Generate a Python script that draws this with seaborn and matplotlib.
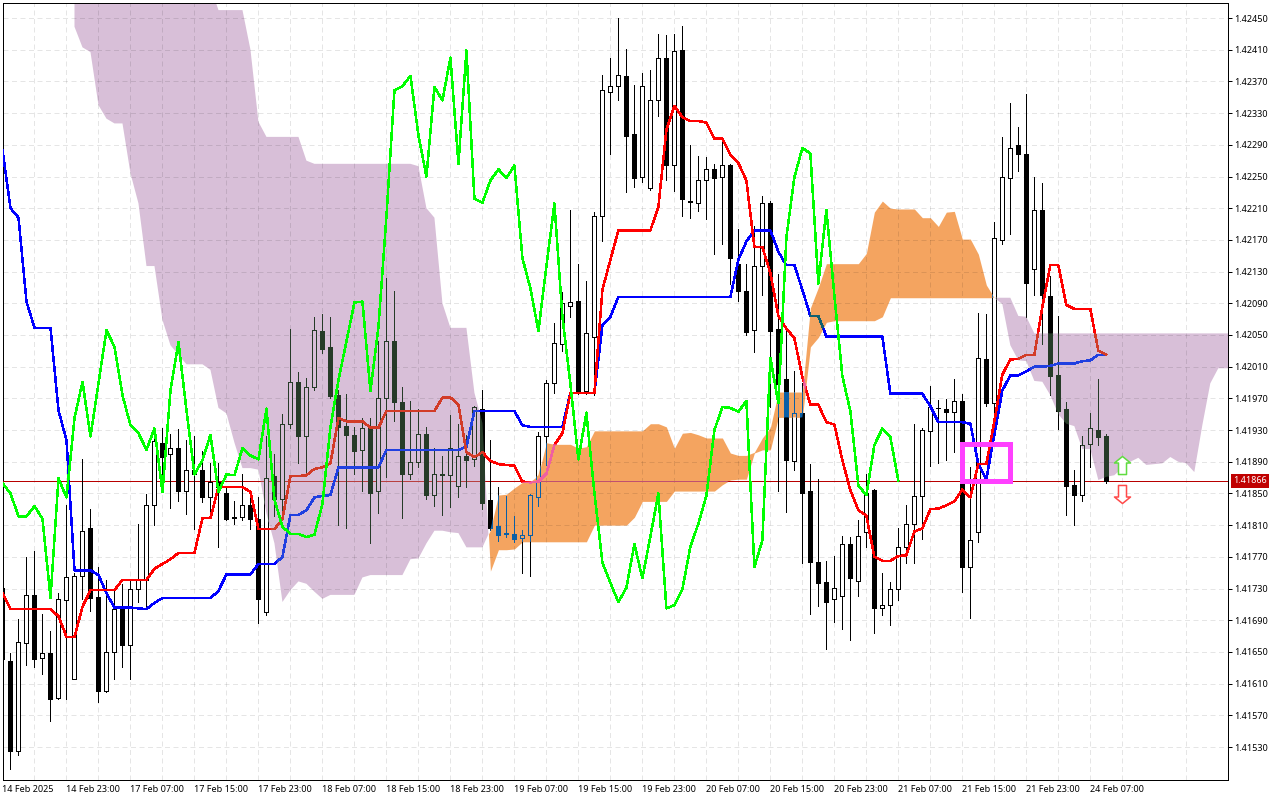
import numpy as np
import matplotlib
matplotlib.use("Agg")
import matplotlib.pyplot as plt
from matplotlib.patches import Rectangle
from matplotlib.path import Path
import pandas as pd
import seaborn as sns

# all series are points above 1.40000 (1866 -> 1.41866)
BASE = 1.4
POINT = 1e-5

opens = [1731, 1639, 1525, 1661, 1722, 1642, 1649, 1592, 1715, 1616, 1746, 1807, 1719, 1601, 1650, 1707, 1659, 1730, 1741, 1836,
         1914, 1900, 1907, 1853, 1879, 1879, 1846, 1865, 1850, 1820, 1820, 1835, 1818, 1701, 1872, 1843, 1938, 1991, 1922, 1984,
         2055, 2035, 1974, 1935, 1924, 1905, 1932, 1853, 1971, 2042, 1965, 1875, 1890, 1925, 1848, 1874, 1873, 1859, 1897, 1893,
         1957, 1842, 1809, 1800, 1799, 1794, 1798, 1845, 1922, 1989, 2039, 2086, 2093, 1979, 2048, 2200, 2357, 2364, 2377, 2304,
         2250, 2235, 2346, 2400, 2265, 2410, 2219, 2217, 2245, 2260, 2249, 2265, 2140, 2105, 2056, 2137, 2217, 2057, 1994, 1891,
         1951, 1853, 1763, 1738, 1717, 1721, 1786, 1740, 1801, 1854, 1705, 1709, 1729, 1783, 1812, 1847, 1929, 1958, 1957, 1953,
         1967, 1757, 1801, 2020, 1964, 2170, 2248, 2290, 2279, 2133, 2208, 2099, 1999, 1957, 1861, 1848, 1912, 1930, 1922]
highs = [1740, 1649, 1692, 1770, 1777, 1698, 1677, 1724, 1835, 1750, 1893, 1830, 1757, 1741, 1728, 1736, 1740, 1811, 1849, 1922,
         1932, 1925, 1931, 1917, 1922, 1903, 1888, 1888, 1858, 1840, 1874, 1850, 1846, 1922, 1900, 1950, 2057, 2003, 1996, 2073,
         2077, 2073, 1980, 1975, 1934, 1945, 1945, 2042, 2122, 2105, 1984, 1967, 1956, 1934, 1907, 1897, 1949, 1938, 1924, 1961,
         1981, 1917, 1858, 1847, 1821, 1804, 1849, 1928, 1993, 2065, 2104, 2208, 2139, 2118, 2205, 2378, 2399, 2450, 2411, 2365,
         2380, 2384, 2430, 2428, 2430, 2440, 2290, 2276, 2275, 2266, 2296, 2266, 2184, 2139, 2187, 2225, 2219, 2127, 2056, 2004,
         1990, 1887, 1868, 1765, 1771, 1796, 1795, 1817, 1875, 1856, 1749, 1738, 1807, 1835, 1938, 1933, 1985, 1968, 1969, 1995,
         1975, 1883, 2078, 2077, 2192, 2300, 2343, 2313, 2354, 2249, 2242, 2125, 2074, 1965, 1880, 1922, 1951, 1994, 1925]
lows = [1630, 1502, 1520, 1633, 1631, 1622, 1563, 1590, 1590, 1616, 1717, 1702, 1587, 1599, 1616, 1631, 1616, 1713, 1706, 1810,
        1865, 1832, 1840, 1824, 1805, 1839, 1821, 1783, 1817, 1811, 1816, 1805, 1687, 1696, 1821, 1825, 1932, 1889, 1876, 1981,
        2027, 1970, 1810, 1806, 1875, 1853, 1787, 1825, 1871, 1941, 1819, 1868, 1883, 1843, 1834, 1823, 1833, 1846, 1858, 1885,
        1830, 1804, 1790, 1795, 1789, 1750, 1746, 1834, 1886, 1977, 2030, 2073, 1975, 1975, 1974, 2168, 2278, 2346, 2231, 2237,
        2243, 2233, 2326, 2245, 2232, 2200, 2198, 2206, 2196, 2152, 2165, 2114, 2093, 2050, 2028, 2100, 1959, 1853, 1826, 1880,
        1762, 1698, 1708, 1654, 1688, 1679, 1665, 1720, 1783, 1674, 1696, 1684, 1716, 1762, 1762, 1792, 1885, 1889, 1892, 1902,
        1726, 1693, 1789, 1961, 1933, 2165, 2177, 2257, 2073, 2100, 2038, 1974, 1931, 1823, 1810, 1840, 1883, 1911, 1863]
closes = [1641, 1525, 1662, 1722, 1641, 1649, 1590, 1717, 1745, 1746, 1803, 1718, 1601, 1650, 1704, 1659, 1730, 1741, 1835, 1916,
          1896, 1907, 1853, 1879, 1875, 1846, 1865, 1858, 1818, 1819, 1835, 1818, 1717, 1870, 1843, 1938, 1991, 1922, 1984, 2056,
          2032, 1973, 1934, 1924, 1904, 1933, 1851, 1971, 2042, 1966, 1874, 1890, 1925, 1848, 1875, 1873, 1907, 1897, 1892, 1959,
          1838, 1807, 1798, 1799, 1793, 1798, 1848, 1923, 1989, 2040, 2090, 2092, 1979, 2052, 2200, 2359, 2364, 2378, 2301, 2248,
          2364, 2346, 2400, 2265, 2409, 2222, 2218, 2245, 2259, 2248, 2264, 2147, 2105, 2054, 2137, 2216, 2055, 1988, 1892, 1952,
          1851, 1763, 1737, 1713, 1731, 1786, 1743, 1796, 1850, 1705, 1709, 1729, 1783, 1812, 1847, 1930, 1959, 1958, 1953, 1967,
          1757, 1791, 2021, 1964, 2173, 2249, 2286, 2279, 2115, 2208, 2100, 1998, 1954, 1860, 1848, 1911, 1932, 1921, 1866]

tenkan = [1724, 1704, 1704, 1704, 1704, 1704, 1704, 1695, 1669, 1669, 1707, 1728, 1728, 1728, 1728, 1741, 1741, 1741, 1741, 1755,
          1761, 1767, 1775, 1775, 1775, 1819, 1819, 1858, 1858, 1858, 1858, 1852, 1805, 1805, 1805, 1818, 1872, 1872, 1873, 1881,
          1883, 1888, 1945, 1941, 1941, 1941, 1933, 1933, 1954, 1954, 1954, 1954, 1954, 1954, 1954, 1971, 1971, 1962, 1902, 1896,
          1902, 1891, 1887, 1886, 1885, 1865, 1864, 1865, 1875, 1911, 1926, 1977, 1977, 1977, 1977, 2107, 2145, 2182, 2182, 2182,
          2182, 2182, 2212, 2309, 2339, 2325, 2320, 2320, 2318, 2298, 2298, 2277, 2267, 2245, 2161, 2161, 2128, 2074, 2058, 2046,
          1997, 1962, 1962, 1940, 1937, 1892, 1854, 1829, 1822, 1770, 1765, 1765, 1771, 1772, 1802, 1806, 1830, 1831, 1835, 1840,
          1855, 1845, 1887, 1887, 1941, 2000, 2019, 2020, 2025, 2025, 2085, 2138, 2138, 2088, 2083, 2083, 2083, 2030, 2025]
kijun = [2283, 2210, 2198, 2092, 2059, 2059, 2059, 1955, 1917, 1753, 1753, 1753, 1747, 1724, 1706, 1706, 1706, 1705, 1704, 1712,
         1718, 1718, 1718, 1718, 1718, 1718, 1718, 1727, 1748, 1748, 1748, 1748, 1761, 1761, 1761, 1770, 1823, 1823, 1829, 1845,
         1847, 1848, 1883, 1883, 1883, 1883, 1883, 1883, 1905, 1905, 1905, 1905, 1905, 1905, 1905, 1905, 1905, 1905, 1909, 1954,
         1954, 1954, 1954, 1954, 1954, 1936, 1934, 1934, 1934, 1934, 1934, 1977, 1977, 1977, 1977, 2062, 2073, 2098, 2098, 2098,
         2098, 2098, 2098, 2098, 2098, 2098, 2098, 2098, 2098, 2098, 2098, 2098, 2145, 2168, 2182, 2182, 2182, 2155, 2138, 2138,
         2107, 2074, 2074, 2048, 2048, 2048, 2048, 2048, 2048, 2048, 2048, 1976, 1976, 1976, 1976, 1976, 1960, 1940, 1940, 1940,
         1940, 1938, 1887, 1868, 1924, 1980, 1999, 1999, 2004, 2010, 2010, 2011, 2014, 2014, 2014, 2017, 2018, 2025, 2025]
chikou = [1863, 1850, 1821, 1821, 1834, 1818, 1718, 1869, 1845, 1945, 1991, 1922, 1989, 2056, 2035, 1974, 1936, 1926, 1905, 1932,
          1852, 1980, 2041, 1955, 1874, 1892, 1924, 1852, 1874, 1873, 1907, 1898, 1893, 1957, 1842, 1808, 1799, 1799, 1795, 1798,
          1837, 1934, 1993, 2042, 2091, 2092, 1979, 2060, 2200, 2359, 2364, 2377, 2302, 2250, 2363, 2346, 2400, 2266, 2409, 2222,
          2217, 2245, 2259, 2248, 2264, 2147, 2109, 2055, 2137, 2216, 2073, 1988, 1893, 1952, 1851, 1763, 1737, 1713, 1731, 1786,
          1743, 1796, 1850, 1705, 1709, 1729, 1783, 1812, 1847, 1930, 1959, 1958, 1953, 1967, 1757, 1791, 2021, 1964, 2173, 2249,
          2286, 2279, 2115, 2208, 2100, 1998, 1954, 1860, 1848, 1911, 1932, 1921, 1866]

# cloud starts at bar 9 and runs past the right edge
CLOUD_START = 9
span_a = [2439, 2413, 2407, 2340, 2323, 2317, 2317, 2254, 2216, 2137, 2137, 2069, 2037, 2025, 2013, 2013, 2013, 2006, 1958, 1951,
          1914, 1882, 1882, 1880, 1825, 1787, 1713, 1728, 1739, 1736, 1726, 1717, 1722, 1722, 1722, 1722, 1744, 1747, 1747, 1747,
          1747, 1747, 1767, 1768, 1787, 1803, 1803, 1801, 1800, 1782, 1782, 1782, 1804, 1848, 1849, 1857, 1864, 1865, 1873, 1914,
          1912, 1912, 1912, 1907, 1909, 1929, 1929, 1929, 1929, 1929, 1929, 1929, 1938, 1938, 1934, 1907, 1926, 1927, 1924, 1920,
          1920, 1920, 1901, 1898, 1898, 1902, 1920, 1933, 1978, 1978, 1978, 1978, 2084, 2110, 2140, 2140, 2140, 2140, 2140, 2153,
          2205, 2219, 2210, 2209, 2209, 2209, 2198, 2198, 2187, 2205, 2206, 2171, 2171, 2152, 2113, 2097, 2089, 2037, 2018, 2017,
          1992, 1991, 1974, 1950, 1938, 1935, 1906, 1906, 1867, 1871, 1873, 1882, 1890, 1895, 1886, 1887, 1888, 1896, 1890, 1888,
          1877, 1936, 1989, 2008, 2008, 2008]
span_b = [2490, 2490, 2490, 2490, 2490, 2490, 2490, 2490, 2490, 2490, 2490, 2490, 2490, 2490, 2490, 2490, 2490, 2490, 2460, 2460,
          2460, 2460, 2410, 2319, 2300, 2300, 2300, 2300, 2300, 2270, 2266, 2266, 2266, 2266, 2266, 2266, 2266, 2266, 2266, 2266,
          2266, 2266, 2266, 2263, 2210, 2198, 2090, 2059, 2059, 2059, 1977, 1939, 1752, 1779, 1779, 1780, 1789, 1789, 1789, 1789,
          1789, 1789, 1789, 1789, 1789, 1810, 1810, 1810, 1810, 1810, 1820, 1840, 1840, 1840, 1840, 1853, 1853, 1853, 1853, 1853,
          1853, 1861, 1867, 1868, 1868, 1901, 1905, 1905, 1946, 1946, 1946, 1946, 2035, 2047, 2066, 2068, 2068, 2068, 2068, 2068,
          2068, 2073, 2097, 2097, 2097, 2097, 2097, 2097, 2097, 2097, 2097, 2097, 2097, 2097, 2097, 2097, 2097, 2097, 2074, 2073,
          2052, 2052, 2052, 2052, 2052, 2052, 2052, 2052, 2052, 2052, 2052, 2052, 2052, 2052, 2052, 2052, 2052, 2052, 2052, 2052,
          2052, 2052, 2052, 2052, 2052, 2052]

price_ticks = [1530, 1570, 1610, 1650, 1690, 1730, 1770, 1810, 1850, 1890, 1930, 1970, 2010, 2050, 2090, 2130, 2170, 2210,
               2250, 2290, 2330, 2370, 2410, 2450]
time_labels = ["14 Feb 2025", "14 Feb 23:00", "17 Feb 07:00", "17 Feb 15:00", "17 Feb 23:00", "18 Feb 07:00",
               "18 Feb 15:00", "18 Feb 23:00", "19 Feb 07:00", "19 Feb 15:00", "19 Feb 23:00", "20 Feb 07:00",
               "20 Feb 15:00", "20 Feb 23:00", "21 Feb 07:00", "21 Feb 15:00", "21 Feb 23:00", "24 Feb 07:00"]

last_price = 1866
box_bars = [120, 126]
box_prices = [1866, 1912]
signal_bar = 140
signal_up = 1886
signal_down = 1849

sns.set_theme(style="white")
plt.rcParams["font.family"] = ["Noto Sans", "DejaVu Sans"]

PX = 0.72  # one screen pixel in points at dpi 100
THISTLE = "#D8BFD8"
SANDY = "#F4A460"


def to_price(points):
    return BASE + np.asarray(points, dtype=float) * POINT


def draw_candles(ax, ink, up_face, clip=None):
    bars = np.arange(len(opens))
    o, c = to_price(opens), to_price(closes)
    wicks = ax.vlines(bars, to_price(lows), to_price(highs), color=ink, linewidth=PX, zorder=3,
                      antialiased=False)
    faces = [up_face if close_ >= open_ else ink for open_, close_ in zip(opens, closes)]
    bodies = ax.bar(bars, np.abs(c - o), bottom=np.minimum(o, c), width=0.5, color=faces, edgecolor=ink,
                    linewidth=PX, zorder=3.1, antialiased=False)
    if clip is not None:
        wicks.set_clip_path(clip, transform=ax.transData)
        for body in bodies:
            body.set_clip_path(clip, transform=ax.transData)


def draw_line(ax, values, colour, clip=None, order=4):
    frame = pd.DataFrame({"bar": np.arange(len(values)), "price": to_price(values)})
    sns.lineplot(data=frame, x="bar", y="price", color=colour, linewidth=1.5 * PX, estimator=None, sort=False,
                 legend=False, ax=ax, zorder=order, antialiased=False)
    if clip is not None:
        ax.lines[-1].set_clip_path(clip, transform=ax.transData)


fig = plt.figure(figsize=(12.8, 8.0), dpi=100, facecolor="white")
ax = fig.add_axes([2.5 / 1280, 1 - 779.5 / 800, 1225 / 1280, 777 / 800])

# cloud
cloud_x = np.arange(CLOUD_START, CLOUD_START + len(span_a))
a, b = to_price(span_a), to_price(span_b)
purple = ax.fill_between(cloud_x, a, b, where=a <= b, interpolate=True, color=THISTLE, linewidth=0, zorder=1)
orange = ax.fill_between(cloud_x, a, b, where=a >= b, interpolate=True, color=SANDY, linewidth=0, zorder=1)
purple_clip = Path.make_compound_path(*purple.get_paths())
orange_clip = Path.make_compound_path(*orange.get_paths())

# price line
price_y = to_price(last_price)
ax.axhline(price_y, color="#b80000", linewidth=PX, zorder=2.8)
for colour, clip in [("#b84040", purple_clip), ("#c05070", orange_clip)]:
    ax.axhline(price_y, color=colour, linewidth=PX, zorder=2.8).set_clip_path(clip, transform=ax.transData)

# candles, they change colour where they cross the cloud
draw_candles(ax, "black", "white")
draw_candles(ax, "#263b28", THISTLE, purple_clip)
draw_candles(ax, "#0a5fa6", SANDY, orange_clip)

# ichimoku lines
draw_line(ax, kijun, "#0000ff")
draw_line(ax, kijun, "#2040e0", purple_clip)
draw_line(ax, kijun, "#106070", orange_clip)
draw_line(ax, tenkan, "#ff0000")
draw_line(ax, tenkan, "#d23c28", purple_clip)
draw_line(ax, tenkan, "#f060a0", orange_clip)
draw_line(ax, chikou, "#00ff00", order=4.2)

# magenta box
box = Rectangle((box_bars[0], to_price(box_prices[0])), box_bars[1] - box_bars[0],
                to_price(box_prices[1]) - to_price(box_prices[0]), fill=False, edgecolor="#ff40ff",
                linewidth=5 * PX, joinstyle="miter", zorder=5)
ax.add_patch(box)

# signal arrows
up_arrow = Path([(0, 9), (8, 2.5), (4, 2.5), (4, -9), (-4, -9), (-4, 2.5), (-8, 2.5), (0, 9)], closed=True)
down_arrow = Path([(0, -9), (8, -2.5), (4, -2.5), (4, 9), (-4, 9), (-4, -2.5), (-8, -2.5), (0, -9)], closed=True)
ax.scatter([signal_bar], to_price([signal_up]), marker=up_arrow, s=169, facecolor="white", edgecolor="#60dc40",
           linewidth=1.1, zorder=6)
ax.scatter([signal_bar], to_price([signal_down]), marker=down_arrow, s=169, facecolor="white", edgecolor="#ff4a4a",
           linewidth=1.1, zorder=6)

# axes
ax.set_xlim(0.025, 153.15)
ax.set_ylim(to_price(1489), to_price(2469.6))
ax.set_xlabel("")
ax.set_ylabel("")
ax.yaxis.tick_right()
ax.set_yticks(to_price(price_ticks))
ax.set_yticklabels([f"{p:.5f}" for p in to_price(price_ticks)])
ax.set_xticks(np.arange(0, 8 * len(time_labels), 8))
ax.set_xticklabels(time_labels, ha="left")
ax.set_xticks(np.arange(4, 154, 8), minor=True)
ax.tick_params(axis="both", which="major", length=3, width=PX, color="black", labelcolor="black", labelsize=6.5)
ax.tick_params(axis="x", which="major", pad=1)
ax.tick_params(axis="y", which="major", pad=1.5, right=True)
ax.tick_params(axis="x", which="minor", length=0)
ax.set_axisbelow("line")
ax.grid(True, which="both", color="black", alpha=0.1, linewidth=PX, linestyle=(0, (5, 3.5)))
for spine in ax.spines.values():
    spine.set_color("black")
    spine.set_linewidth(PX)

ax.text(1.0047, price_y, f"{price_y:.5f}", transform=ax.get_yaxis_transform(), color="white", fontsize=6.5,
        va="center", ha="left", clip_on=False, zorder=7,
        bbox=dict(boxstyle="square,pad=0.28", fc="#c00000", ec="none"))

fig.savefig("out.png", dpi=100)
plt.close(fig)
